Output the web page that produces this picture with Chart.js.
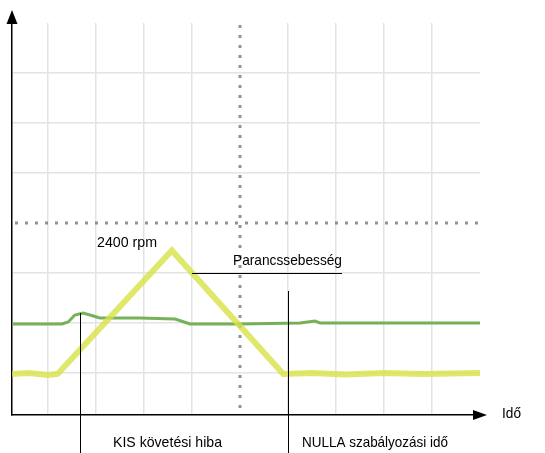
<!DOCTYPE html>
<html><head><meta charset="utf-8">
<script src="https://cdn.jsdelivr.net/npm/chart.js@4/dist/chart.umd.min.js"></script>
<style>html,body{margin:0;padding:0;background:#fff}#wrap{width:545px;height:453px}</style>
</head><body><div id="wrap"><canvas id="c" width="545" height="453"></canvas></div>
<script>
// Oscilloscope divisions (x: time, y: speed); centre of screen = (0,0)
const xGridTicks = [-4,-3,-2,-1,0,1,2,3,4];
const yGridTicks = [-3,-2,-1,0,1,2,3];
const commandX = [-4.75,-4.4,-4.0,-3.8,-1.42,0.9,1.5,2.2,3.0,3.8,5.0];
const commandY = [-3.02,-3.0,-3.04,-3.02,-0.55,-3.02,-3.0,-3.03,-3.0,-3.02,-3.0];
const errorX = [-4.75,-3.71,-3.58,-3.44,-3.27,-3.125,-2.92,-2.08,-1.35,-1.04,0,1.25,1.56,1.67,5.0];
const errorY = [-2.02,-2.02,-1.98,-1.84,-1.8,-1.84,-1.9,-1.9,-1.92,-2.02,-2.02,-2.0,-1.96,-2.0,-2.0];
const markerX = [-3.34, 1.0]; // KIS követési hiba, NULLA szabályozási idő
const labels = {peak:'2400 rpm', cmd:'Parancssebesség', kis:'KIS követési hiba', nulla:'NULLA szabályozási idő', axis:'Idő'};

const pts = (xs, ys) => xs.map((x,i)=>({x, y: ys[i]}));
const FONT = '"Liberation Sans",Arial,sans-serif';

const crosshair = {
  id:'crosshair',
  beforeDatasetsDraw(chart){
    const {ctx, chartArea:a, scales:{x, y}} = chart;
    ctx.save();
    ctx.strokeStyle='rgba(110,110,110,0.75)';
    ctx.lineWidth=3;
    ctx.setLineDash([3,7]);
    const cx = Math.round(x.getPixelForValue(0)), cy = Math.round(y.getPixelForValue(0));
    ctx.beginPath(); ctx.moveTo(a.left+3, cy); ctx.lineTo(a.right, cy); ctx.stroke();
    ctx.beginPath(); ctx.moveTo(cx, a.top+2); ctx.lineTo(cx, a.bottom); ctx.stroke();
    ctx.restore();
  }
};

const overlay = {
  id:'overlay',
  afterDraw(chart){
    const {ctx, chartArea:a, scales:{x, y}} = chart;
    ctx.save();
    ctx.fillStyle='#000'; ctx.strokeStyle='#000';
    // axis arrows
    ctx.lineWidth=1.5;
    ctx.beginPath(); ctx.moveTo(a.left, a.top); ctx.lineTo(a.left, a.top-2); ctx.stroke();
    ctx.beginPath(); ctx.moveTo(a.left-5.5, a.top+1); ctx.lineTo(a.left+5.5, a.top+1); ctx.lineTo(a.left, a.top-13); ctx.closePath(); ctx.fill();
    ctx.beginPath(); ctx.moveTo(a.right, a.bottom); ctx.lineTo(a.right-7, a.bottom); ctx.stroke();
    ctx.beginPath(); ctx.moveTo(a.right-7, a.bottom-5); ctx.lineTo(a.right-7, a.bottom+5); ctx.lineTo(a.right+7, a.bottom); ctx.closePath(); ctx.fill();
    // marker lines
    ctx.lineWidth=1;
    const k = x.getPixelForValue(markerX[0]), n = x.getPixelForValue(markerX[1]);
    ctx.beginPath(); ctx.moveTo(Math.round(k)+0.5, y.getPixelForValue(-1.8)); ctx.lineTo(Math.round(k)+0.5, 453); ctx.stroke();
    ctx.beginPath(); ctx.moveTo(Math.round(n)+0.5, y.getPixelForValue(-1.36)); ctx.lineTo(Math.round(n)+0.5, 453); ctx.stroke();
    // underline for command label
    const uy = Math.round(y.getPixelForValue(-1))+0.5;
    ctx.beginPath(); ctx.moveTo(x.getPixelForValue(-1), uy); ctx.lineTo(342, uy); ctx.stroke();
    // texts (condensed to the reference widths)
    ctx.font = '15px '+FONT;
    ctx.textBaseline='middle'; ctx.textAlign='left';
    ctx.fillText(labels.peak, 97, 243, 60);
    ctx.fillText(labels.cmd, 233, 261, 109);
    ctx.fillText(labels.kis, 113, 443, 109);
    ctx.fillText(labels.nulla, 302, 443, 146);
    ctx.fillText(labels.axis, 502, 414, 19);
    ctx.restore();
  }
};

const gridColor = c => c.tick && c.tick.value===0 ? 'rgba(0,0,0,0)' : '#e3e3e3';

new Chart(document.getElementById('c'), {
  type:'line',
  data:{datasets:[
    {label:'Követési hiba', data:pts(errorX,errorY), borderColor:'rgba(104,168,72,0.9)', borderWidth:3, pointRadius:0, tension:0, order:2},
    {label:'Parancssebesség', data:pts(commandX,commandY), borderColor:'rgba(216,226,70,0.8)', borderWidth:6, pointRadius:0, tension:0, order:1}
  ]},
  options:{
    responsive:false, animation:false, devicePixelRatio:1,
    layout:{padding:{left:12, right:65, top:23, bottom:38}},
    plugins:{legend:{display:false}, tooltip:{enabled:false}},
    scales:{
      x:{type:'linear', min:-4.75, max:5,
        afterBuildTicks:s=>{s.ticks = xGridTicks.map(v=>({value:v}));},
        ticks:{display:false},
        border:{display:true, color:'#000', width:1.5},
        grid:{drawTicks:false, color:gridColor, lineWidth:1.5}
      },
      y:{type:'linear', min:-3.84, max:4,
        afterBuildTicks:s=>{s.ticks = yGridTicks.map(v=>({value:v}));},
        ticks:{display:false},
        border:{display:true, color:'#000', width:1.5},
        grid:{drawTicks:false, color:gridColor, lineWidth:1.5}
      }
    }
  },
  plugins:[crosshair, overlay]
});
</script></body></html>
